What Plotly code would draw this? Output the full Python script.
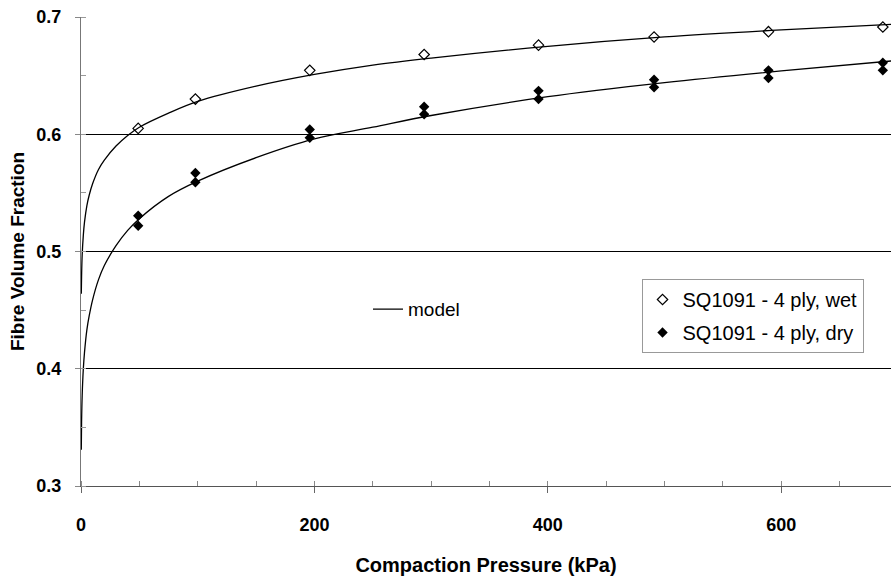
import plotly.graph_objects as go

# ---- data ----
pressure_wet = [49, 98, 196, 294, 392, 491, 589, 687]
vf_wet = [0.605, 0.630, 0.6545, 0.668, 0.676, 0.683, 0.6875, 0.6915]

pressure_dry = [49, 49, 98, 98, 196, 196, 294, 294, 392, 392, 491, 491, 589, 589, 687, 687]
vf_dry = [0.5305, 0.522, 0.567, 0.559, 0.604, 0.597, 0.6235, 0.617, 0.637, 0.630,
          0.6465, 0.640, 0.6545, 0.648, 0.661, 0.6545]

model_p = [0.25, 0.5, 1, 2, 3, 5, 7, 10, 15, 20, 30, 40, 50, 75, 100, 150, 200,
           250, 300, 400, 500, 600, 700]
model_wet = [0.464, 0.479, 0.497, 0.514, 0.525, 0.539, 0.548, 0.558, 0.570, 0.578,
             0.590, 0.599, 0.606, 0.618, 0.628, 0.641, 0.651, 0.659, 0.665, 0.675,
             0.683, 0.689, 0.694]
model_dry = [0.331, 0.355, 0.377, 0.400, 0.414, 0.433, 0.445, 0.459, 0.476, 0.488,
             0.505, 0.518, 0.528, 0.547, 0.560, 0.580, 0.596, 0.606, 0.616, 0.632,
             0.644, 0.654, 0.663]

x_ticks = [0, 200, 400, 600]
y_ticks = [0.3, 0.4, 0.5, 0.6, 0.7]
y_tick_text = ["0.3", "0.4", "0.5", "0.6", "0.7"]

FONT = "Liberation Sans, Arial, sans-serif"

fig = go.Figure()

fig.add_trace(go.Scatter(
    x=model_p, y=model_wet, mode="lines", name="model",
    line=dict(color="black", width=1.3, shape="spline"),
    legend="legend2", showlegend=True, hoverinfo="skip", cliponaxis=True))
fig.add_trace(go.Scatter(
    x=model_p, y=model_dry, mode="lines", name="model",
    line=dict(color="black", width=1.3, shape="spline"),
    legend="legend2", showlegend=False, hoverinfo="skip", cliponaxis=True))

fig.add_trace(go.Scatter(
    x=pressure_wet, y=vf_wet, mode="markers", name="SQ1091 - 4 ply, wet",
    legendgroup="wet", cliponaxis=False,
    marker=dict(symbol="diamond-open", size=8, color="black", line=dict(width=1.2))))
fig.add_trace(go.Scatter(
    x=pressure_dry, y=vf_dry, mode="markers", name="SQ1091 - 4 ply, dry",
    legendgroup="dry", cliponaxis=False,
    marker=dict(symbol="diamond", size=8, color="black")))

fig.update_layout(
    width=891, height=576,
    margin=dict(l=81, r=0, t=17, b=90, autoexpand=False),
    paper_bgcolor="white", plot_bgcolor="white",
    font=dict(family=FONT, color="black"),
    xaxis=dict(
        range=[0, 694], tickvals=x_ticks, ticks="outside", ticklen=6,
        tickcolor="#666666", tickwidth=1, automargin=False,
        showgrid=False, zeroline=False,
        showline=True, linecolor="#555555", linewidth=1,
        tickfont=dict(size=18, family=FONT, weight="bold"),
        ticklabelstandoff=16,
        minor=dict(ticks="inside", dtick=50, tick0=0, ticklen=5, tickcolor="#888888",
                   showgrid=False),
        title=dict(text="<b>Compaction Pressure (kPa)</b>", font=dict(size=20, family=FONT),
                   standoff=26),
    ),
    yaxis=dict(
        range=[0.3, 0.7], tickvals=y_ticks, ticktext=y_tick_text,
        ticks="outside", ticklen=5, tickcolor="#888888", automargin=False,
        showgrid=True, gridcolor="black", gridwidth=1,
        zeroline=False, showline=True, linecolor="#777777", linewidth=1,
        tickfont=dict(size=18, family=FONT, weight="bold"),
        ticklabelstandoff=10,
        minor=dict(ticks="inside", dtick=0.05, tick0=0.3, ticklen=5, tickcolor="#999999",
                   showgrid=False),
        title=dict(text="<b>Fibre Volume Fraction</b>", font=dict(size=19, family=FONT),
                   standoff=6),
    ),
    legend=dict(
        x=0.692, y=0.4414, xanchor="left", yanchor="top",
        bgcolor="white", bordercolor="#999999", borderwidth=1,
        font=dict(size=20, family=FONT),
        traceorder="grouped", tracegroupgap=4, itemwidth=30,
    ),
    legend2=dict(
        x=0.3543, y=0.377, xanchor="left", yanchor="middle",
        bgcolor="rgba(0,0,0,0)", borderwidth=0,
        font=dict(size=19, family=FONT), itemwidth=30,
    ),
    showlegend=True,
)

fig.write_html("out.html", config={"displayModeBar": False},
               post_script="document.body.style.margin='0';")
